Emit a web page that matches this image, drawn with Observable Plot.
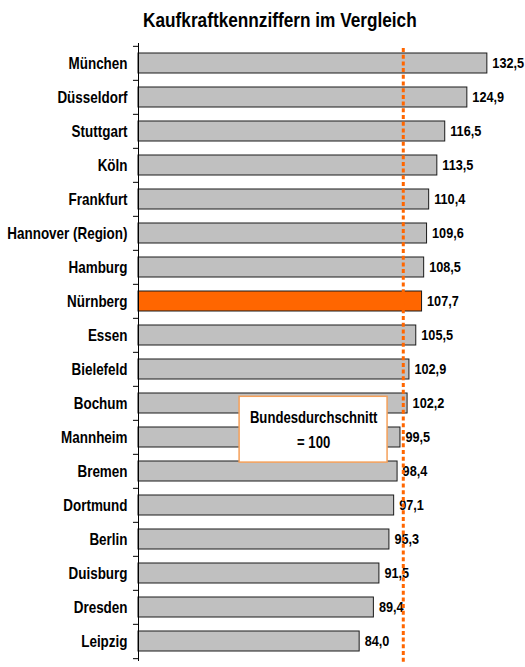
<!DOCTYPE html>
<html><head><meta charset="utf-8">
<script src="https://cdn.jsdelivr.net/npm/d3@7"></script>
<script src="https://cdn.jsdelivr.net/npm/@observablehq/plot@0.6"></script>
<style>
body{margin:0;background:#fff;}
#title{height:36px;box-sizing:border-box;padding-top:9px;padding-left:35px;text-align:center;font:bold 21px/21px "Liberation Sans",Arial,sans-serif;color:#000;white-space:nowrap;}
#title span{display:inline-block;transform:scaleX(0.82);transform-origin:center;}
#chart svg{display:block;}
</style></head><body>
<div id="title"><span>Kaufkraftkennziffern im Vergleich</span></div>
<div id="chart"></div>
<script>
const cities = ["München","Düsseldorf","Stuttgart","Köln","Frankfurt","Hannover (Region)","Hamburg","Nürnberg","Essen","Bielefeld","Bochum","Mannheim","Bremen","Dortmund","Berlin","Duisburg","Dresden","Leipzig"];
const values = [132.5,124.9,116.5,113.5,110.4,109.6,108.5,107.7,105.5,102.9,102.2,99.5,98.4,97.1,95.3,91.5,89.4,84.0];
const highlight = "Nürnberg";
const reference = 100;
const noteText = ["Bundesdurchschnitt", "= 100"];
const noteCity = "Mannheim";
const noteRange = [38.4, 94.6];

const data = cities.map((c, i) => ({city: c, value: values[i]}));
const fmt = v => v.toFixed(1).replace(".", ",");
const step = 618 / cities.length;
const font = '"Liberation Sans",Arial,sans-serif';

const chart = Plot.plot({
  width: 525,
  height: 631,
  marginTop: 7,
  marginBottom: 6,
  marginLeft: 138,
  marginRight: 18.4,
  style: {fontFamily: font, fontWeight: "bold", fontSize: "16.4px", color: "#000", background: "#fff", overflow: "visible"},
  x: {domain: [0, 140], axis: null},
  y: {domain: cities, paddingInner: 0.41, paddingOuter: 0.205, tickSize: 0, tickPadding: 11, label: null},
  marks: [
    Plot.barX(data, {
      y: "city", x: "value",
      fill: d => d.city === highlight ? "#ff6600" : "#c0c0c0",
      stroke: "#1a1a1a", strokeWidth: 1
    }),
    Plot.ruleX([0], {stroke: "#000", strokeWidth: 1}),
    Plot.ruleY(cities, {y: d => d, x1: -1.9, x2: 0, dy: -step / 2, stroke: "#000"}),
    Plot.ruleY([cities[cities.length - 1]], {y: d => d, x1: -1.9, x2: 0, dy: step / 2, stroke: "#000"}),
    Plot.barX([{city: noteCity, x1: noteRange[0], x2: noteRange[1]}], {
      y: "city", x1: "x1", x2: "x2",
      fill: "#fff", stroke: "#f5a05a", strokeWidth: 1.5,
      insetTop: -30.7, insetBottom: -15.1
    }),
    Plot.text([noteText.join("\n")], {
      x: (noteRange[0] + noteRange[1]) / 2, y: () => noteCity,
      text: d => d, dy: -10.3, lineHeight: 1.6,
      fontSize: 16, fontWeight: "bold", fill: "#000"
    }),
    Plot.text(data, {
      y: "city", x: "value", text: d => fmt(d.value),
      textAnchor: "start", dx: 5, fontSize: 15.5, fontWeight: "bold", fill: "#000"
    }),
    Plot.ruleX([reference], {
      stroke: "#ff6600", strokeWidth: 3, strokeDasharray: "4,2.7",
      insetTop: 5, insetBottom: -2, dx: 1.5
    })
  ]
});
document.getElementById("chart").appendChild(chart);
// condense all text horizontally (narrow face look) around each text's anchor
chart.querySelectorAll("text").forEach(el => {
  const b = el.getBBox();
  const anchor = getComputedStyle(el).textAnchor || el.getAttribute("text-anchor") || "start";
  const ax = anchor === "end" ? b.x + b.width : anchor === "middle" ? b.x + b.width / 2 : b.x;
  const t = el.getAttribute("transform") || "";
  el.setAttribute("transform", `${t} translate(${ax},0) scale(0.82,1) translate(${-ax},0)`.trim());
});
</script>
</body></html>
